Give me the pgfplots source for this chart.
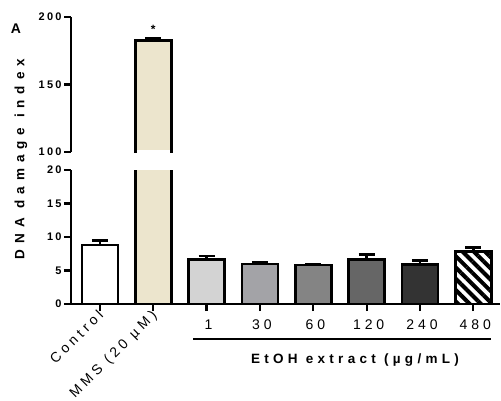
\documentclass[border=0pt]{standalone}
\usepackage{fontspec}
\setmainfont{Liberation Sans}
\newfontfamily\spcT[LetterSpace=20]{Liberation Sans}
\newfontfamily\spcN[LetterSpace=28]{Liberation Sans}
\newfontfamily\spcR[LetterSpace=30]{Liberation Sans}
\newfontfamily\spcY[LetterSpace=44]{Liberation Sans}
\newfontfamily\spcX[LetterSpace=32]{Liberation Sans}
\usepackage{pgfplots}
\pgfplotsset{compat=1.18}
\usetikzlibrary{patterns.meta}
\definecolor{mmsfill}{RGB}{236,229,205}
\definecolor{g1}{RGB}{211,211,211}
\definecolor{g30}{RGB}{163,163,167}
\definecolor{g60}{RGB}{132,132,132}
\definecolor{g120}{RGB}{102,102,102}
\definecolor{g240}{RGB}{51,51,51}

\pgfplotsset{
  brk/.style={
    scale only axis, width=429pt, xmin=-0.543, xmax=7.5,
    axis y line*=left,
    tick align=outside, major tick length=7pt,
    axis line style={line width=2.5pt},
    every tick/.style={line width=2.3pt, black},
    yticklabel style={font=\spcT\bfseries\fontsize{11}{12}\selectfont, xshift=1pt},
    /pgf/number format/assume math mode=true,
    every axis plot/.append style={ybar, bar width=36pt, bar shift=0pt, draw=black, line width=2.6pt},
    error bars/y dir=plus, error bars/y explicit,
    error bars/error bar style={line width=2.6pt},
    error bars/error mark options={rotate=90, mark size=8pt, line width=2.6pt},
  },
}

\begin{document}
\begin{tikzpicture}
\useasboundingbox (0pt,0pt) rectangle (501pt,-400pt);

% upper part of the broken axis
\begin{axis}[brk, at={(71pt,-152pt)}, anchor=south west, height=135pt,
  ymin=100, ymax=200, ytick={100,150,200}, axis x line=none]
\addplot[fill=mmsfill] coordinates {(1,182.8) +- (0,1.6)};
\fill[white] (axis cs:0.686,99) rectangle (axis cs:1.314,101.6);
\node[font=\bfseries\fontsize{12}{12}\selectfont, anchor=south] at (axis cs:1,185) {*};
\end{axis}

% lower part
\begin{axis}[brk, at={(71pt,-304pt)}, anchor=south west, height=134pt,
  ymin=0, ymax=20, ytick={0,5,10,15,20},
  axis x line*=bottom,
  xtick={2,...,7}, xticklabels={1,30,60,120,240,480},
  xticklabel style={font=\spcN\fontsize{14}{16}\selectfont, yshift=-5pt, xshift=2pt},
  extra x ticks={0,1}, extra x tick labels={Control,MMS (20 µM)},
  extra x tick style={tick label style={xshift=-8pt, yshift=9pt, rotate=45, anchor=north east, font=\spcR\bfseries\fontsize{9.5}{11}\selectfont}},
]
\addplot[fill=white] coordinates {(0,8.8) +- (0,0.7)};
\addplot[fill=mmsfill] coordinates {(1,182.8)};
\addplot[fill=g1] coordinates {(2,6.6) +- (0,0.55)};
\addplot[fill=g30] coordinates {(3,6.0) +- (0,0.2)};
\addplot[fill=g60] coordinates {(4,5.85) +- (0,0.15)};
\addplot[fill=g120] coordinates {(5,6.6) +- (0,0.75)};
\addplot[fill=g240] coordinates {(6,5.9) +- (0,0.55)};
\addplot[fill=white, postaction={pattern={Lines[angle=-45, distance=8pt, line width=4pt]}, pattern color=black}] coordinates {(7,7.8) +- (0,0.65)};
\end{axis}

\draw[line width=2.2pt] (193pt,-339pt) -- (491pt,-339pt);
\node[font=\spcX\bfseries\fontsize{13.5}{14}\selectfont] at (355pt,-360pt) {EtOH extract (µg/mL)};
\node[font=\spcY\bfseries\fontsize{13.5}{14}\selectfont, rotate=90] at (21pt,-159pt) {DNA damage index};
\node[font=\bfseries\fontsize{14}{14}\selectfont] at (16pt,-29pt) {A};
\end{tikzpicture}
\end{document}
